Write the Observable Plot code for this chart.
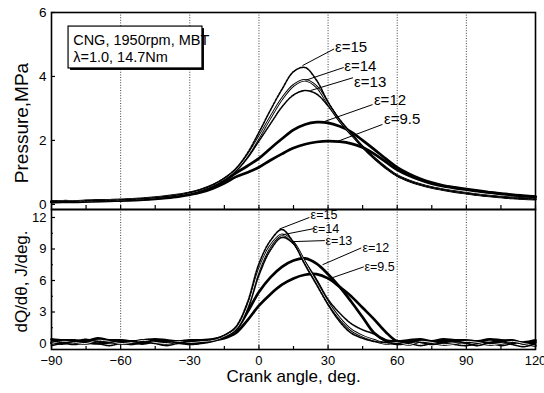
<!DOCTYPE html>
<html>
<head>
<meta charset="utf-8">
<script src="https://cdn.jsdelivr.net/npm/d3@7"></script>
<script src="https://cdn.jsdelivr.net/npm/@observablehq/plot@0.6"></script>
<style>
  html, body { margin: 0; padding: 0; background: #fff; }
  #chart { width: 544px; height: 393px; }
  #chart svg { display: block; }
</style>
</head>
<body>
<div id="chart"></div>
<script>
// Crank angle grid (deg.) shared by every trace
const theta = [-90,-85,-80,-75,-70,-65,-60,-55,-50,-45,-40,-35,-30,-25,-20,-15,-10,-5,0,5,10,15,20,25,30,35,40,45,50,55,60,65,70,75,80,85,90,95,100,105,110,115,120];

// Compression ratios
const ratios = ["ε=15", "ε=14", "ε=13", "ε=12", "ε=9.5"];

// Cylinder pressure, MPa
const pressure15 = [0.09,0.10,0.10,0.11,0.12,0.13,0.14,0.16,0.18,0.21,0.25,0.30,0.37,0.47,0.61,0.82,1.12,1.60,2.25,2.95,3.60,4.15,4.28,3.88,3.20,2.65,2.22,1.80,1.45,1.15,0.90,0.74,0.62,0.53,0.46,0.40,0.35,0.30,0.26,0.23,0.20,0.18,0.16];
const pressure14 = [0.09,0.10,0.10,0.11,0.12,0.13,0.14,0.16,0.18,0.21,0.25,0.30,0.36,0.46,0.60,0.80,1.08,1.52,2.10,2.72,3.30,3.72,3.88,3.68,3.15,2.62,2.20,1.80,1.45,1.15,0.90,0.74,0.62,0.53,0.46,0.40,0.35,0.30,0.26,0.23,0.20,0.18,0.16];
const pressure13 = [0.09,0.10,0.10,0.11,0.12,0.13,0.14,0.15,0.17,0.20,0.24,0.29,0.35,0.45,0.58,0.77,1.04,1.45,1.98,2.52,3.05,3.42,3.56,3.45,3.08,2.60,2.20,1.80,1.45,1.15,0.90,0.74,0.62,0.53,0.46,0.40,0.35,0.30,0.26,0.23,0.20,0.18,0.16];
const pressure12 = [0.08,0.09,0.09,0.10,0.11,0.12,0.13,0.14,0.16,0.19,0.22,0.27,0.34,0.43,0.56,0.74,0.98,1.20,1.44,1.75,2.05,2.33,2.50,2.57,2.55,2.44,2.27,2.00,1.72,1.43,1.16,0.96,0.80,0.68,0.59,0.53,0.48,0.43,0.38,0.34,0.30,0.27,0.24];
const pressure95 = [0.07,0.08,0.08,0.09,0.10,0.11,0.12,0.13,0.15,0.17,0.20,0.24,0.30,0.38,0.50,0.66,0.86,1.00,1.16,1.38,1.58,1.76,1.88,1.95,1.98,1.96,1.90,1.78,1.58,1.33,1.08,0.90,0.76,0.65,0.57,0.51,0.46,0.41,0.37,0.33,0.29,0.26,0.23];

// Heat release rate dQ/dθ, J/deg.
const heat15 = [0.3,0.1,0.2,0.4,0.2,0.1,0.3,0.2,0.1,0.3,0.2,0.1,0.2,0.3,0.4,0.8,1.6,3.9,7.6,9.8,10.85,9.6,7.5,5.6,3.7,2.1,1.0,0.5,0.2,0.1,0.0,0.2,0.1,-0.1,0.1,0.2,0.0,-0.2,0.1,0.2,-0.1,-0.3,0.0];
const heat14 = [0.0,0.2,0.1,0.0,0.3,0.2,0.0,0.1,0.3,0.1,0.0,0.2,0.1,0.2,0.3,0.7,1.4,3.5,7.0,9.3,10.35,9.6,7.7,5.8,3.9,2.4,1.3,0.7,0.3,0.0,0.1,-0.1,0.2,0.1,-0.1,0.0,0.2,0.1,-0.1,0.0,0.2,0.0,-0.2];
const heat13 = [-0.2,0.0,-0.1,0.1,0.0,-0.2,0.0,-0.1,0.1,0.0,-0.2,0.0,-0.1,0.0,0.2,0.6,1.3,3.2,6.5,8.9,10.1,9.5,7.8,6.1,4.2,2.9,1.9,1.3,0.9,0.2,-0.1,0.0,-0.2,0.0,0.1,-0.1,-0.2,0.0,0.1,-0.2,0.0,0.1,-0.1];
const heat12 = [0.4,0.3,0.3,0.2,0.5,0.3,0.3,0.2,0.3,0.4,0.3,0.2,0.3,0.3,0.4,0.7,1.3,3.0,4.9,6.3,7.3,7.9,8.1,7.6,6.6,5.4,4.0,2.5,1.0,0.3,0.2,0.3,0.4,0.2,0.4,0.3,0.3,0.2,0.4,0.3,0.2,0.1,0.3];
const heat95 = [0.1,0.0,0.2,0.1,0.0,0.1,0.2,0.1,0.0,0.2,0.1,0.2,0.0,0.1,0.3,0.5,1.0,2.2,3.6,4.7,5.6,6.2,6.55,6.6,6.2,5.4,4.5,3.4,2.3,1.1,0.2,0.1,0.3,0.1,0.2,0.3,0.1,0.2,0.0,0.2,0.3,0.0,0.1];

// Axis ticks
const xTicks = [-90, -60, -30, 0, 30, 60, 90, 120];
const xMinorTicks = [-75, -45, -15, 15, 45, 75, 105];
const gridAngles = [-60, -30, 0, 30, 60, 90];
const pressureTicks = [0, 2, 4, 6];
const heatTicks = [0, 3, 6, 9, 12];
const heatMinorTicks = [1.5, 4.5, 7.5, 10.5];

// Operating condition note (top panel)
const noteBox = [{x1: -82.6, x2: -24.5, y1: 4.25, y2: 5.56}];
const noteLines = [
  {x: -80.6, y: 5.13, text: "CNG, 1950rpm, MBT"},
  {x: -80.6, y: 4.59, text: "λ=1.0, 14.7Nm"}
];

// Curve labels and their leader lines
const pressureLabels = [
  {x: 33.0, y: 4.90, text: ratios[0]},
  {x: 37.0, y: 4.31, text: ratios[1]},
  {x: 41.3, y: 3.81, text: ratios[2]},
  {x: 49.9, y: 3.25, text: ratios[3]},
  {x: 54.3, y: 2.66, text: ratios[4]}
];
const pressureLeaders = [
  {x1: 18.9, y1: 4.34, x2: 32.6, y2: 4.86},
  {x1: 20.2, y1: 3.88, x2: 36.8, y2: 4.28},
  {x1: 22.4, y1: 3.56, x2: 40.8, y2: 3.96},
  {x1: 27.6, y1: 2.57, x2: 49.3, y2: 3.12},
  {x1: 34.1, y1: 1.97, x2: 53.6, y2: 2.50}
];
const heatLabels = [
  {x: 22.4, y: 12.25, text: ratios[0]},
  {x: 23.2, y: 10.95, text: ratios[1]},
  {x: 28.9, y: 9.75, text: ratios[2]},
  {x: 44.9, y: 9.14, text: ratios[3]},
  {x: 45.8, y: 7.24, text: ratios[4]}
];
const heatLeaders = [
  {x1: 8.9, y1: 10.9, x2: 21.9, y2: 12.0},
  {x1: 10.2, y1: 10.35, x2: 24.1, y2: 10.95},
  {x1: 14.6, y1: 9.7, x2: 28.6, y2: 9.8},
  {x1: 27.6, y1: 7.5, x2: 44.4, y2: 9.1},
  {x1: 31.0, y1: 6.2, x2: 45.5, y2: 7.3}
];

const pressureSeries = [pressure15, pressure14, pressure13, pressure12, pressure95];
const heatSeries = [heat15, heat14, heat13, heat12, heat95];

function toRows(series) {
  return series.flatMap((values, k) =>
    values.map((v, i) => ({angle: theta[i], value: v, ratio: ratios[k]})));
}
const pressureRows = toRows(pressureSeries);
const heatRows = toRows(heatSeries);

// Print-style strokes: symbol-like dashes for the high ratios, heavy lines for the low ones
const strokeStyles = {
  "ε=15": [{stroke: "#000", strokeWidth: 1.6, strokeDasharray: "2.5,1.2"}],
  "ε=14": [{stroke: "#000", strokeWidth: 2.6}, {stroke: "#fff", strokeWidth: 0.9}],
  "ε=13": [{stroke: "#000", strokeWidth: 1.6, strokeDasharray: "1,1.1"}],
  "ε=12": [{stroke: "#000", strokeWidth: 2.7}],
  "ε=9.5": [{stroke: "#000", strokeWidth: 2.7}]
};
// draw order: bottom-most first
const drawOrder = ["ε=9.5", "ε=12", "ε=13", "ε=14", "ε=15"];

function curveMarks(rows) {
  const marks = [];
  for (const r of drawOrder) {
    const subset = rows.filter(d => d.ratio === r);
    for (const s of strokeStyles[r]) {
      marks.push(Plot.line(subset, {x: "angle", y: "value", curve: "catmull-rom", strokeLinejoin: "round", ...s}));
    }
  }
  return marks;
}

const font = "'Liberation Sans', Arial, Helvetica, sans-serif";
const xDomain = [-90, 120];
const common = {
  width: 544, marginLeft: 51, marginRight: 9,
  style: {fontFamily: font, fontSize: "13px", color: "#000", background: "#fff", overflow: "visible"},
  x: {domain: xDomain, axis: null}
};
const grid = Plot.ruleX(gridAngles, {stroke: "#000", strokeWidth: 0.9, strokeDasharray: "1,1.6", strokeOpacity: 0.85});

const pressurePlot = Plot.plot({
  ...common,
  height: 209, marginTop: 12, marginBottom: 0,
  y: {domain: [-0.16, 6], axis: null},
  marks: [
    grid,
    Plot.axisX([...xTicks, ...xMinorTicks], {anchor: "bottom", tickSize: -4, text: null, strokeWidth: 1.2}),
    Plot.axisY(pressureTicks, {anchor: "left", tickSize: -4, tickPadding: 9, fontSize: 13.5, label: null, strokeWidth: 1.2}),
    Plot.rect(noteBox, {x1: "x1", x2: "x2", y1: "y1", y2: "y2", fill: "#000", dx: 2, dy: 2}),
    Plot.rect(noteBox, {x1: "x1", x2: "x2", y1: "y1", y2: "y2", fill: "#fff", stroke: "#000", strokeWidth: 1.2}),
    Plot.text(noteLines, {x: "x", y: "y", text: "text", textAnchor: "start", fontSize: 14.5, letterSpacing: "-0.6px"}),
    ...curveMarks(pressureRows),
    Plot.link(pressureLeaders, {x1: "x1", y1: "y1", x2: "x2", y2: "y2", stroke: "#000", strokeWidth: 1}),
    Plot.text(pressureLabels, {x: "x", y: "y", text: "text", textAnchor: "start", fontSize: 15, letterSpacing: "-0.6px"}),
    Plot.text(["Pressure,MPa"], {frameAnchor: "left", textAnchor: "middle", dx: -30, dy: 12, rotate: -90, fontSize: 19, letterSpacing: "-0.3px"}),
    Plot.frame({stroke: "#000", strokeWidth: 1.6})
  ]
});

const heatPlot = Plot.plot({
  ...common,
  height: 184, marginTop: 0, marginBottom: 44,
  y: {domain: [-0.57, 12.76], axis: null},
  marks: [
    grid,
    Plot.axisX(xTicks, {anchor: "bottom", tickSize: -4, tickPadding: 10, fontSize: 13, label: null, strokeWidth: 1.2, letterSpacing: "-0.7px"}),
    Plot.axisX(xMinorTicks, {anchor: "bottom", tickSize: -3, text: null, strokeWidth: 1.2}),
    Plot.axisY(heatTicks, {anchor: "left", tickSize: -4, tickPadding: 9, fontSize: 13, label: null, strokeWidth: 1.2}),
    Plot.axisY(heatMinorTicks, {anchor: "left", tickSize: -2, text: null, strokeWidth: 1.2}),
    ...curveMarks(heatRows),
    Plot.link(heatLeaders, {x1: "x1", y1: "y1", x2: "x2", y2: "y2", stroke: "#000", strokeWidth: 1}),
    Plot.text(heatLabels, {x: "x", y: "y", text: "text", textAnchor: "start", fontSize: 12.5, letterSpacing: "-0.5px"}),
    Plot.text(["dQ/dθ, J/deg."], {frameAnchor: "left", textAnchor: "middle", dx: -30, dy: 2, rotate: -90, fontSize: 17, letterSpacing: "-0.5px"}),
    Plot.text(["Crank angle, deg."], {frameAnchor: "bottom", dy: 32, fontSize: 17, letterSpacing: "-0.6px"}),
    Plot.frame({stroke: "#000", strokeWidth: 1.6})
  ]
});

const chart = document.getElementById("chart");
chart.append(pressurePlot, heatPlot);
</script>
</body>
</html>
